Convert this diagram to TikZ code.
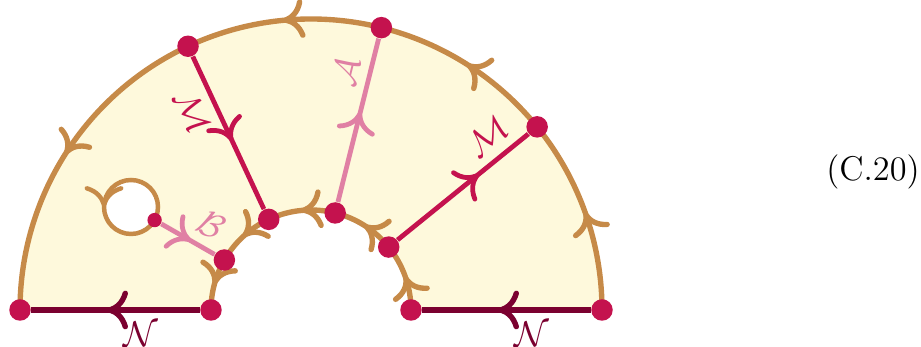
\documentclass[tikz,border=0pt]{standalone}
\usepackage{amsmath}
\usepackage{xcolor}
\usepackage{tikz}
\usetikzlibrary{arrows.meta, decorations.markings, backgrounds}

\definecolor{sand}{HTML}{C68A48}
\definecolor{cream}{HTML}{FEF9DC}
\definecolor{berry}{HTML}{C4124E}
\definecolor{rose}{HTML}{E080A4}
\definecolor{wine}{HTML}{7B0130}

\begin{document}
\begin{tikzpicture}[
    x=0.335pt, y=0.335pt,
    dot/.style={circle, fill=berry, inner sep=0pt, minimum size=7.2pt},
    smalldot/.style={circle, fill=berry, inner sep=0pt, minimum size=4.8pt},
    bdry/.style={color=sand, line width=1.8pt},
    wall/.style={color=#1, line width=1.6pt},
    midarrow/.style={postaction={decorate}, decoration={markings,
        mark=at position #1 with {\arrow{Computer Modern Rightarrow[length=7pt, width=13pt]}}}},
    lbl/.style={font=\large, text=#1, inner sep=3pt}
]

\useasboundingbox (0,0) rectangle (921,347);

\coordinate (c) at (311,37);
\coordinate (h) at (131,140);

% outer rim
\node[dot] (o0) at ([shift={(0:291)}]c) {};
\node[dot] (o1) at ([shift={(39:291)}]c) {};
\node[dot] (o2) at ([shift={(76:291)}]c) {};
\node[dot] (o3) at ([shift={(115:291)}]c) {};
\node[dot] (o4) at ([shift={(180:291)}]c) {};

% inner rim
\node[dot] (i0) at ([shift={(0:100)}]c) {};
\node[dot] (i1) at ([shift={(39:100)}]c) {};
\node[dot] (i2) at ([shift={(76:100)}]c) {};
\node[dot] (i3) at ([shift={(115:100)}]c) {};
\node[dot] (i4) at ([shift={(150:100)}]c) {};
\node[dot] (i5) at ([shift={(180:100)}]c) {};

\node[smalldot] (b) at ([shift={(-29:27)}]h) {};

\begin{scope}[on background layer]
    \fill[cream] (o0.center) arc[start angle=0, end angle=180, radius=291]
        -- (i5.center) arc[start angle=180, end angle=0, radius=100] -- cycle;
    \draw[bdry, midarrow=0.5] (o0.center) arc[start angle=0, end angle=39, radius=291];
    \draw[bdry, midarrow=0.5] (o1.center) arc[start angle=39, end angle=76, radius=291];
    \draw[bdry, midarrow=0.5] (o2.center) arc[start angle=76, end angle=115, radius=291];
    \draw[bdry, midarrow=0.5] (o3.center) arc[start angle=115, end angle=180, radius=291];
    \draw[bdry, midarrow=0.5] (i0.center) arc[start angle=0, end angle=39, radius=100];
    \draw[bdry, midarrow=0.5] (i1.center) arc[start angle=39, end angle=76, radius=100];
    \draw[bdry, midarrow=0.5] (i2.center) arc[start angle=76, end angle=115, radius=100];
    \draw[bdry, midarrow=0.5] (i3.center) arc[start angle=115, end angle=150, radius=100];
    \draw[bdry, midarrow=0.5] (i4.center) arc[start angle=150, end angle=180, radius=100];
    \draw[bdry, line width=1.5pt, fill=white, midarrow=0.5] (h) circle[radius=27];
\end{scope}

\draw[wall=wine, line width=1.8pt, midarrow=0.55] (o0) -- node[lbl=wine, pos=0.35, below] {$\mathcal{N}$} (i0);
\draw[wall=wine, line width=1.8pt, midarrow=0.55] (i5) -- node[lbl=wine, pos=0.35, below] {$\mathcal{N}$} (o4);
\draw[wall=berry, midarrow=0.55] (o3) -- node[lbl=berry, pos=0.3, sloped, below] {$\mathcal{M}$} (i3);
\draw[wall=rose, midarrow=0.55] (i2) -- node[lbl=rose, pos=0.76, sloped, above] {$\mathcal{A}$} (o2);
\draw[wall=berry, midarrow=0.62] (i1) -- node[lbl=berry, pos=0.8, sloped, above] {$\mathcal{M}$} (o1);
\draw[wall=rose, midarrow=0.55] (b) -- node[lbl=rose, pos=0.72, sloped, above] {$\mathcal{B}$} (i4);

\node[font=\fontsize{11.5}{14}\selectfont] (eq) at (873,175) {(C.20)};

\end{tikzpicture}
\end{document}
